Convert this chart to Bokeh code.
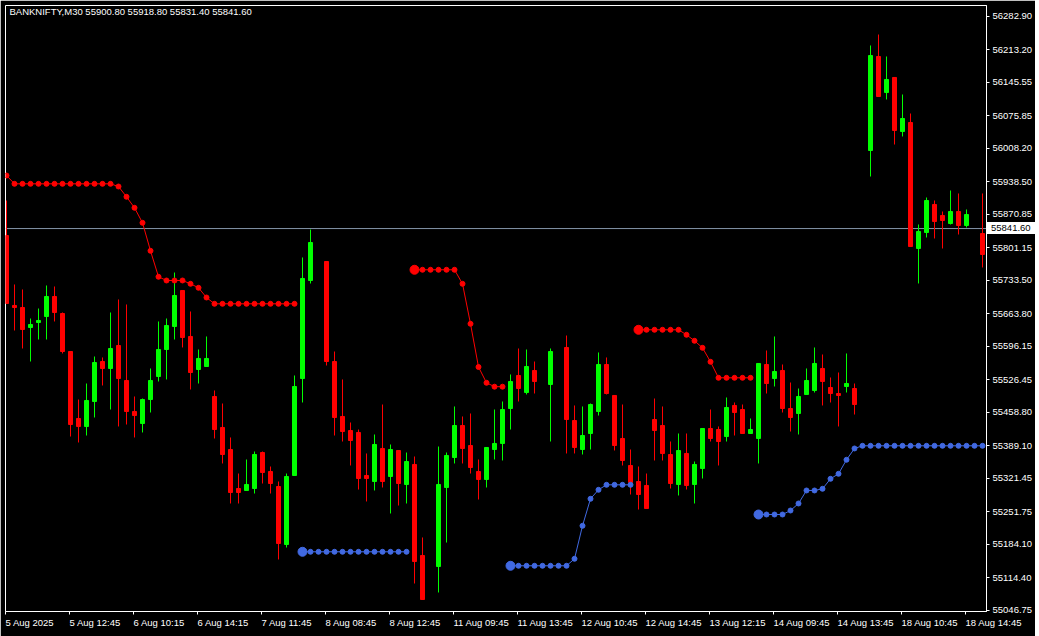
import numpy as np
from bokeh.plotting import figure
from bokeh.layouts import column
from bokeh.models import (ColumnDataSource, Range1d, FixedTicker,
                          NumeralTickFormatter, Span, Label, Div)
from bokeh.embed import file_html
from bokeh.resources import INLINE

FONT = "Liberation Sans"
FS = "9.5px"

title_text = "BANKNIFTY,M30  55900.80 55918.80 55831.40 55841.60"
last_price = 55841.60

# ---- OHLC of each M30 bar (None = bar not drawn) ----
opens = [55827.1, 55681.5, 55677.3, 55635.7, 55646.1, 55658.6, 55700.2, 55664.8, 55585.7, 55446.3,
         55429.7, 55481.7, 55564.9, 55550.4, 55598.2, 55525.4, 55460.9, 55435.9, 55485.8, 55533.7,
         55589.9, 55637.8, 55712.7, 55617.0, 55548.3, 55554.5, 55492.1, 55427.6, 55381.8, 55300.6,
         55296.5, 55300.6, 55375.5, 55336.0, 55304.8, 55184.1, 55327.7, 55529.5, 55733.5, None,
         55773.0, 55564.9, 55450.5, 55421.3, 55417.2, 55327.7, 55315.2, 55383.9, 55325.6, 55379.7,
         55309.0, 55350.6, 55161.2, None, 55138.3, 55302.7, 55365.1, 55431.7, 55390.1, 55336.0,
         55319.4, 55381.8, 55394.3, 55467.1, 55535.8, 55500.4, 55546.2, None, 55517.1, None,
         55594.1, 55442.1, 55381.8, 55415.1, 55460.9, 55558.7, 55494.2, 55404.7, 55348.5, 55315.2,
         55306.9, 55444.2, 55431.7, 55371.4, 55309.0, 55373.5, 55309.0, 55342.3, 55425.5, 55423.4,
         55408.8, 55473.4, 55465.0, 55415.1, 55404.7, 55558.7, 55529.5, 55546.2, 55467.1, 55456.7,
         55496.3, 55504.6, 55550.4, 55510.8, 55498.3, 55512.9, 55508.7, None, 56004.0, 56199.7,
         56124.7, 56156.0, 56043.6, 56062.3, 55800.1, 55833.4, 55891.7, 55868.8, 55852.1, 55877.1,
         55848.0, None, 55831.3]
highs = [55900.0, 55725.2, 55714.8, 55654.4, 55675.2, 55723.1, 55721.0, 55666.9, 55585.7, 55485.8,
         55519.1, 55575.3, 55573.3, 55666.9, 55694.0, 55683.6, 55492.1, 55487.9, 55550.4, 55648.2,
         55654.4, 55750.1, 55712.7, 55669.0, 55589.9, 55617.0, 55504.6, 55477.5, 55406.8, 55331.8,
         55361.0, 55377.6, 55377.6, 55346.4, 55315.2, 55331.8, 55535.8, 55781.4, 55839.6, None,
         55773.0, 55585.7, 55527.5, 55438.0, 55423.4, 55373.5, 55413.0, 55475.4, 55392.2, 55379.7,
         55375.5, 55367.2, 55198.7, None, 55388.0, 55375.5, 55471.3, 55450.5, 55456.7, 55361.0,
         55386.0, 55465.0, 55481.7, 55537.9, 55592.0, 55589.9, 55564.9, None, 55592.0, None,
         55619.0, 55473.4, 55471.3, 55477.5, 55583.7, 55573.3, 55494.2, 55475.4, 55381.8, 55346.4,
         55331.8, 55487.9, 55471.3, 55398.4, 55415.1, 55415.1, 55356.8, 55425.5, 55465.0, 55429.7,
         55490.0, 55479.6, 55475.4, 55446.3, 55560.8, 55587.8, 55617.0, 55558.7, 55521.2, 55508.7,
         55550.4, 55594.1, 55579.5, 55531.6, 55542.0, 55581.6, 55519.1, None, 56222.6, 56245.4,
         56199.7, 56156.0, 56120.6, 56081.0, 55850.0, 55906.2, 55900.0, 55877.1, 55920.8, 55914.6,
         55881.3, None, 55914.6]
lows = [55685.6, 55629.4, 55592.0, 55564.9, 55610.7, 55610.7, 55648.2, 55581.6, 55408.8, 55396.4,
        55410.9, 55448.4, 55515.0, 55465.0, 55429.7, 55433.8, 55406.8, 55417.2, 55458.8, 55523.3,
        55527.5, 55610.7, 55594.1, 55506.7, 55519.1, 55554.5, 55404.7, 55352.7, 55269.4, 55269.4,
        55296.5, 55290.2, 55311.0, 55290.2, 55152.9, 55177.8, 55327.7, 55479.6, 55727.3, None,
        55556.6, 55410.9, 55398.4, 55348.5, 55298.5, 55273.6, 55296.5, 55302.7, 55248.6, 55265.2,
        55269.4, 55102.9, 55069.6, None, 55084.2, 55188.2, 55352.7, 55352.7, 55331.8, 55277.7,
        55302.7, 55361.0, 55358.9, 55423.4, 55481.7, 55496.3, 55498.3, None, 55398.4, None,
        55373.5, 55373.5, 55371.4, 55381.8, 55452.5, 55496.3, 55379.7, 55348.5, 55288.1, 55256.9,
        55259.0, 55358.9, 55358.9, 55300.6, 55286.1, 55298.5, 55269.4, 55321.4, 55398.4, 55348.5,
        55398.4, 55410.9, 55415.1, 55415.1, 55352.7, 55498.3, 55512.9, 55458.8, 55419.2, 55413.0,
        55496.3, 55500.4, 55473.4, 55479.6, 55429.7, 55500.4, 55454.6, None, 55949.9, 56116.4,
        56110.2, 56016.5, 56033.2, 55804.3, 55727.3, 55823.0, 55820.9, 55800.1, 55850.0, 55829.2,
        55843.8, None, 55760.6]
closes = [55685.6, 55677.3, 55631.5, 55641.9, 55650.3, 55700.2, 55666.9, 55585.7, 55433.8, 55429.7,
          55483.8, 55562.8, 55550.4, 55592.0, 55529.5, 55460.9, 55452.5, 55485.8, 55525.4, 55589.9,
          55639.8, 55702.3, 55614.9, 55542.0, 55571.2, 55571.2, 55423.4, 55371.4, 55292.3, 55292.3,
          55309.0, 55371.4, 55333.9, 55311.0, 55186.2, 55325.6, 55512.9, 55737.7, 55812.6, None,
          55564.9, 55448.4, 55419.2, 55400.5, 55321.4, 55321.4, 55392.2, 55315.2, 55381.8, 55311.0,
          55356.8, 55148.7, 55069.6, None, 55309.0, 55369.3, 55431.7, 55383.9, 55344.3, 55319.4,
          55386.0, 55394.3, 55465.0, 55523.3, 55508.7, 55554.5, 55523.3, None, 55585.7, None,
          55444.2, 55386.0, 55410.9, 55475.4, 55558.7, 55498.3, 55390.1, 55358.9, 55313.1, 55288.1,
          55259.0, 55421.3, 55373.5, 55311.0, 55379.7, 55306.9, 55350.6, 55425.5, 55404.7, 55398.4,
          55469.2, 55458.8, 55415.1, 55423.4, 55560.8, 55519.1, 55544.1, 55467.1, 55448.4, 55492.1,
          55525.4, 55560.8, 55523.3, 55498.3, 55494.2, 55519.1, 55475.4, None, 56201.7, 56116.4,
          56151.8, 56045.7, 56070.6, 55804.3, 55835.5, 55900.0, 55856.3, 55858.4, 55877.1, 55848.0,
          55870.8, None, 55787.6]

# ---- trailing-stop indicator (red = above price, blue = below price) ----
stop_red = [55952.0, 55934.7, 55934.7, 55934.7, 55934.7, 55934.7, 55934.7, 55934.7, 55934.7, 55934.7,
            55934.7, 55934.7, 55934.7, 55934.7, 55929.1, 55907.7, 55884.8, 55853.6, 55795.3, 55741.2,
            55733.5, 55733.5, 55733.5, 55726.6, 55718.3, 55698.1, 55685.0, 55685.0, 55685.0, 55685.0,
            55685.0, 55685.0, 55685.0, 55685.0, 55685.0, 55685.0, 55685.0, None, None, None,
            None, None, None, None, None, None, None, None, None, None,
            None, 55755.8, 55755.8, 55755.8, 55755.8, 55755.8, 55755.8, 55726.6, 55643.4, 55553.5,
            55520.6, 55512.5, 55512.5, None, None, None, None, None, None, None,
            None, None, None, None, None, None, None, None, None, 55630.9,
            55630.9, 55630.9, 55630.9, 55630.9, 55630.9, 55620.5, 55608.0, 55593.4, 55564.3, 55531.0,
            55531.0, 55531.0, 55531.0, 55531.0, None, None, None, None, None, None,
            None, None, None, None, None, None, None, None, None, None,
            None, None, None, None, None, None, None, None, None, None,
            None, None, None]
stop_blue = [None, None, None, None, None, None, None, None, None, None,
             None, None, None, None, None, None, None, None, None, None,
             None, None, None, None, None, None, None, None, None, None,
             None, None, None, None, None, None, None, 55168.9, 55168.9, 55168.9,
             55168.9, 55168.9, 55168.9, 55168.9, 55168.9, 55168.9, 55168.9, 55168.9, 55168.9, 55168.9,
             55168.9, None, None, None, None, None, None, None, None, None,
             None, None, None, 55139.8, 55139.8, 55139.8, 55139.8, 55139.8, 55139.8, 55139.8,
             55139.8, 55154.3, 55223.0, 55279.2, 55297.9, 55308.3, 55308.3, 55308.3, 55308.3, None,
             None, None, None, None, None, None, None, None, None, None,
             None, None, None, None, 55246.5, 55246.5, 55246.5, 55246.5, 55254.8, 55269.4,
             55296.5, 55296.5, 55300.0, 55320.8, 55331.2, 55360.4, 55383.9, 55389.5, 55389.5, 55389.5,
             55389.5, 55389.5, 55389.5, 55389.5, 55389.5, 55389.5, 55389.5, 55389.5, 55389.5, 55389.5,
             55389.5, 55389.5, 55389.5]

# ---- axis texts ----
price_ticks = [56282.90, 56213.20, 56145.55, 56075.85, 56008.20, 55938.50, 55870.85, 55801.15,
               55733.50, 55663.80, 55596.15, 55526.45, 55458.80, 55389.10, 55321.45, 55251.75,
               55184.10, 55114.40, 55046.75]
time_labels = ["5 Aug 2025", "5 Aug 12:45", "6 Aug 10:15", "6 Aug 14:15", "7 Aug 11:45",
               "8 Aug 08:45", "8 Aug 12:45", "11 Aug 09:45", "11 Aug 13:45", "12 Aug 10:45",
               "12 Aug 14:45", "13 Aug 12:15", "14 Aug 09:45", "14 Aug 13:45", "18 Aug 10:45",
               "18 Aug 14:45"]
bars_per_label = 8

BULL = "#00FF00"
BEAR = "#FF0000"
BLUE = "#4169E1"

n = len(opens)
xs, o_, h_, l_, c_, col = [], [], [], [], [], []
for i in range(n):
    if opens[i] is None:
        continue
    xs.append(i); o_.append(opens[i]); h_.append(highs[i]); l_.append(lows[i]); c_.append(closes[i])
    col.append(BULL if closes[i] >= opens[i] else BEAR)
src = ColumnDataSource(dict(x=xs, o=o_, h=h_, l=l_, c=c_,
                            top=[max(a, b) for a, b in zip(o_, c_)],
                            bot=[min(a, b) for a, b in zip(o_, c_)], col=col))

PX_PER_BAR = 8
FRAME_W = 981
FRAME_H = 606
BORDER_L = 5
BORDER_T = 5
x0 = -0.125
y_top = 56305.79
y_bot = 55044.64

fig = figure(frame_width=FRAME_W, frame_height=FRAME_H,
             x_range=Range1d(x0, x0 + FRAME_W / PX_PER_BAR),
             y_range=Range1d(y_bot, y_top),
             output_backend="svg", toolbar_location=None,
             y_axis_location="right",
             background_fill_color="black", border_fill_color="black",
             min_border_left=BORDER_L, min_border_top=BORDER_T,
             min_border_right=0, min_border_bottom=0,
             outline_line_color="white", outline_line_width=1)
fig.grid.visible = False

fig.add_layout(Span(location=last_price, dimension="width", line_color="#8494A8",
                    line_width=1, level="underlay"))

fig.segment(x0="x", y0="h", x1="x", y1="l", source=src, line_color="col", line_width=1)
fig.vbar(x="x", width=0.5, top="top", bottom="bot", source=src,
         fill_color="col", line_color="col", line_width=1)

def draw_stop(vals, color):
    arr = np.array([np.nan if v is None else v for v in vals], dtype=float)
    xi = np.arange(len(vals), dtype=float)
    fig.line(xi, arr, line_color=color, line_width=1)
    small_x = [i for i, v in enumerate(vals) if v is not None]
    small_y = [vals[i] for i in small_x]
    fig.scatter(small_x, small_y, size=5, fill_color=color, line_color=color)
    big_x = [i for i in small_x if i > 0 and vals[i - 1] is None]
    big_y = [vals[i] for i in big_x]
    fig.scatter(big_x, big_y, size=9, fill_color=color, line_color=color)

draw_stop(stop_red, BEAR)
draw_stop(stop_blue, BLUE)

# right price axis
ya = fig.yaxis[0]
ya.ticker = FixedTicker(ticks=price_ticks)
ya.formatter = NumeralTickFormatter(format="0.00")
ya.axis_line_color = "white"
ya.major_tick_line_color = "white"
ya.major_tick_in = 0
ya.major_tick_out = 3
ya.minor_tick_line_color = None
ya.major_label_standoff = 3
ya.major_label_text_color = "white"
ya.major_label_text_font = FONT
ya.major_label_text_font_size = FS

# bottom time axis: one tick every 8 bars, label text starting at the tick mark
mark_pos = [k * bars_per_label - 0.125 for k in range(len(time_labels))]
xa = fig.xaxis[0]
xa.ticker = FixedTicker(ticks=mark_pos)
xa.major_label_overrides = {m: t for m, t in zip(mark_pos, time_labels)}
xa.major_label_orientation = -0.0001   # practically horizontal, but left-anchored
xa.axis_line_color = "white"
xa.major_tick_line_color = "white"
xa.major_tick_in = 0
xa.major_tick_out = 3
xa.minor_tick_line_color = None
xa.major_label_standoff = 8
xa.major_label_text_color = "white"
xa.major_label_text_font = FONT
xa.major_label_text_font_size = FS

# symbol / OHLC caption
fig.add_layout(Label(x=4, y=FRAME_H, x_units="screen", y_units="screen",
                     text=title_text, text_color="white", text_font=FONT,
                     text_font_size=FS, text_baseline="top", text_align="left"))

# current price tag sitting on the price axis (positioned from the y scale)
tag_center = BORDER_T + (y_top - last_price) / (y_top - y_bot) * FRAME_H
tag = Div(text=f"{last_price:.2f}",
          styles={"position": "absolute", "left": f"{BORDER_L + FRAME_W + 1}px",
                  "top": f"{tag_center - 6:.0f}px", "z-index": "10",
                  "background-color": "white", "color": "black",
                  "font-family": FONT, "font-size": FS, "line-height": "12px",
                  "padding": "0px 4px 0px 4px", "margin": "0px"})

p = column(fig, tag, spacing=0)

open("out.html", "w").write(file_html(p, INLINE))
